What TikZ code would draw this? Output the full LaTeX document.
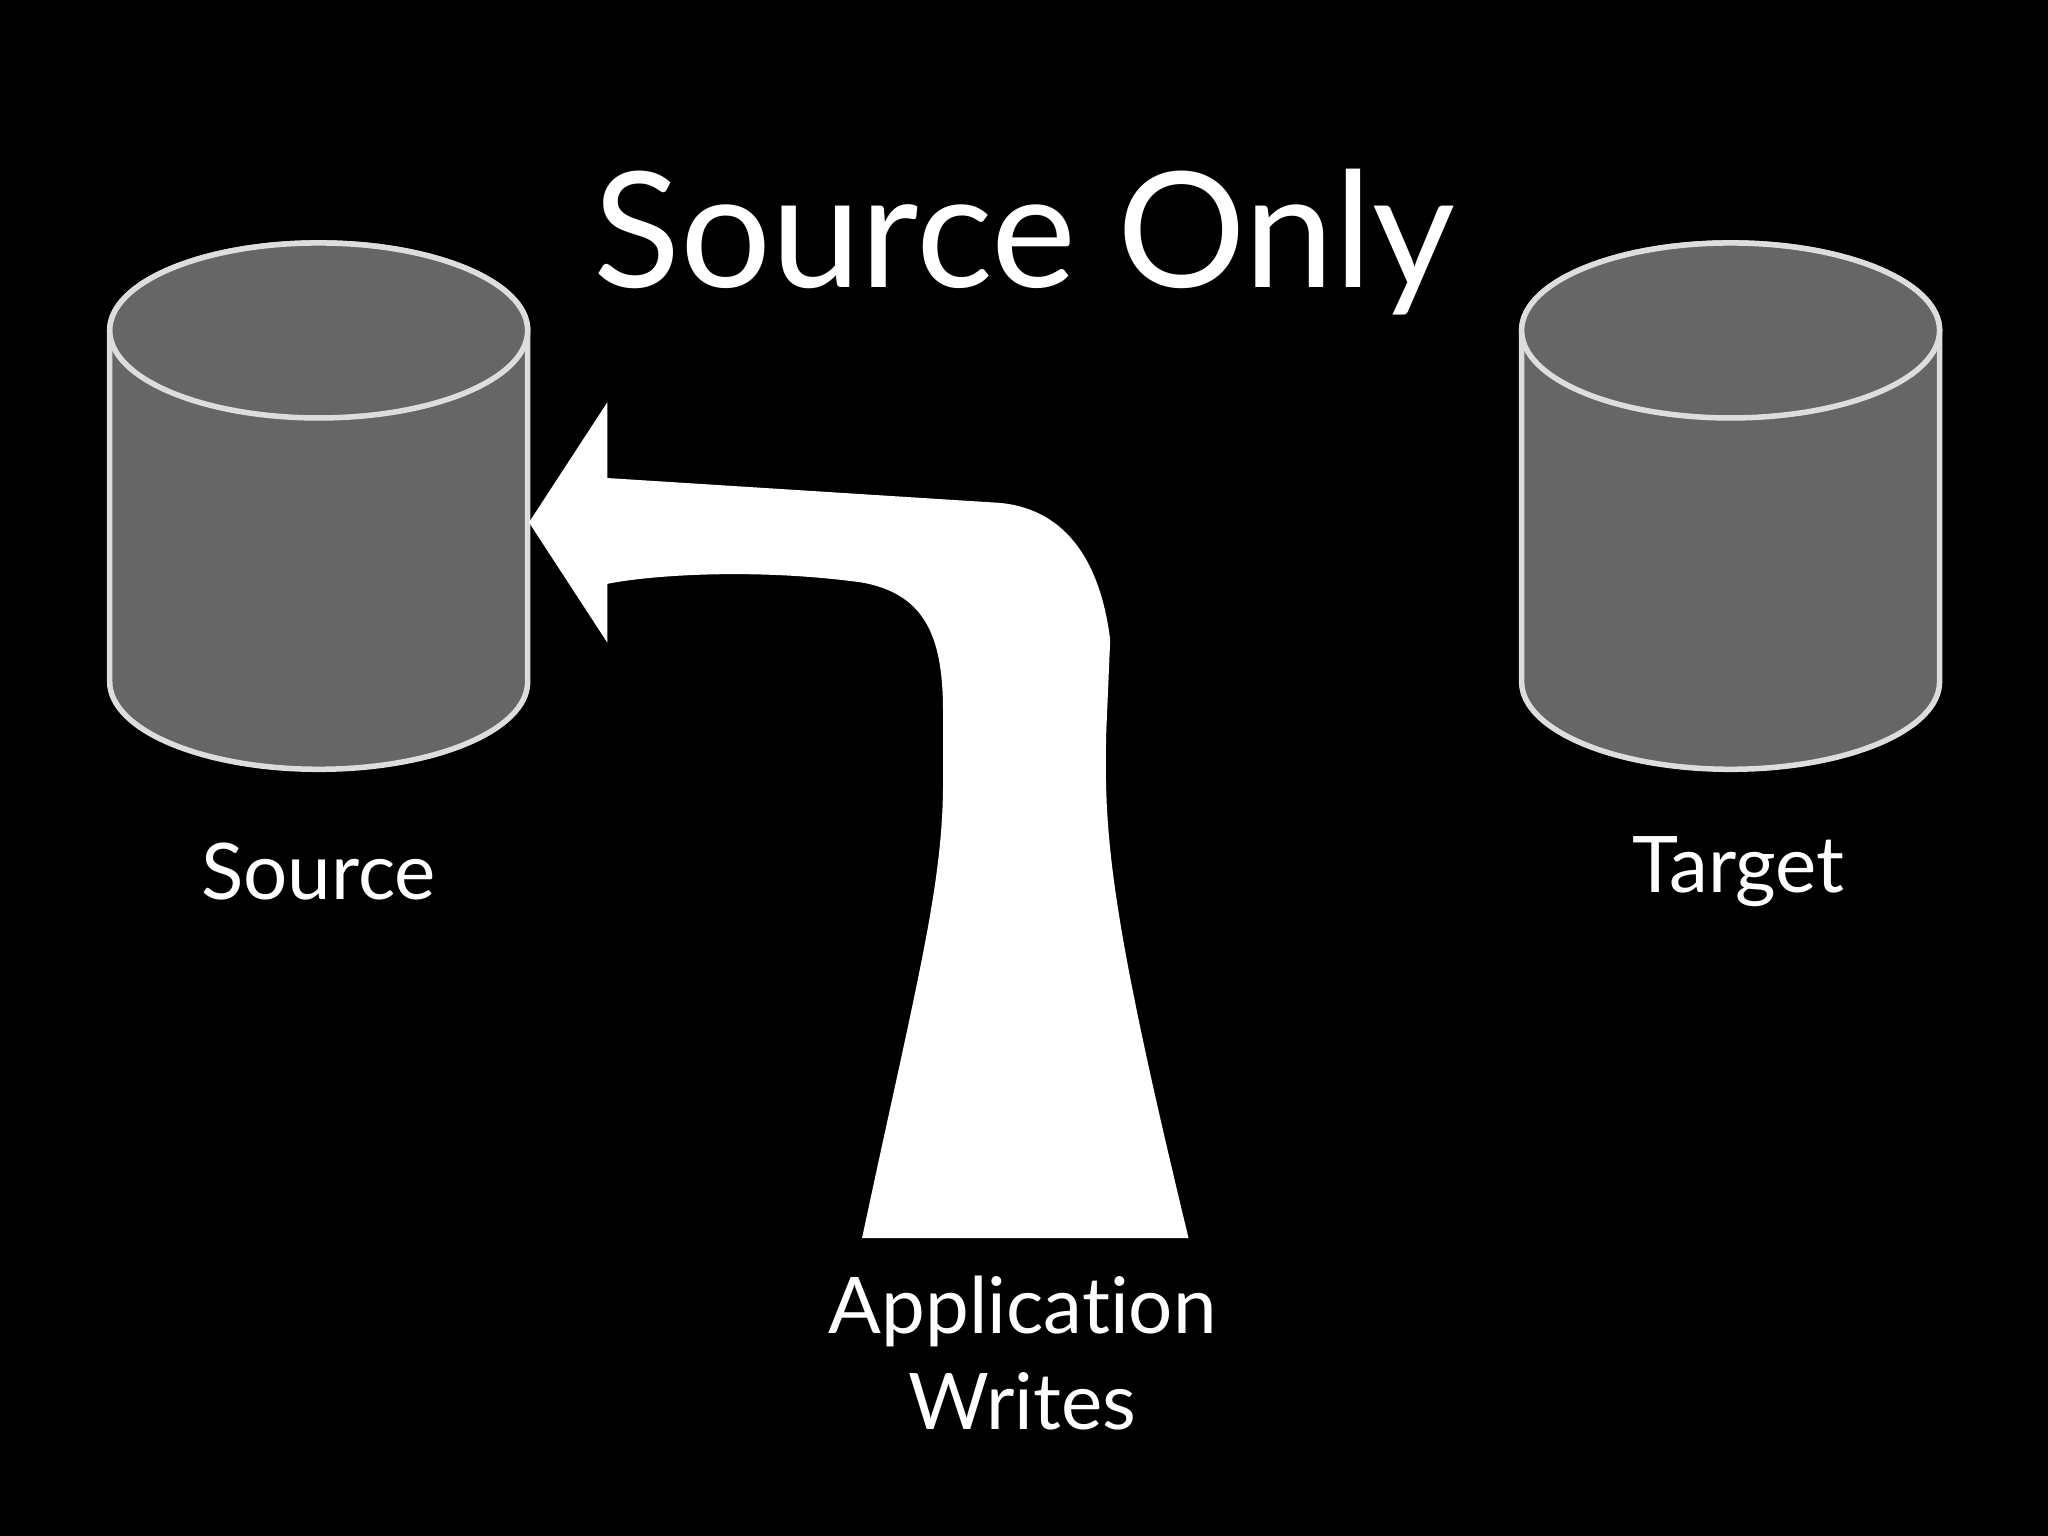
\documentclass[tikz,border=0pt]{standalone}
\usepackage{fontspec}
\setmainfont{Lato}[RawFeature={-liga}]
\begin{document}
\begin{tikzpicture}[x=0.01cm,y=-0.01cm,
  cyl/.style={fill=cylgray,draw=cyledge,line width=1.2pt},
  lbl/.style={text=white,font=\fontsize{17}{21}\selectfont,align=center}]
\definecolor{cylgray}{HTML}{666666}
\definecolor{cyledge}{HTML}{DDDDDD}
\fill[black] (0,0) rectangle (1568,1176);
\useasboundingbox (0,0) rectangle (1568,1176);
\node[text=white,font=\fontsize{35}{40}\selectfont] (title) at (784,185) {Source Only};
\foreach \cx/\nm in {244/src,1325/tgt}{
  \path[cyl] (\cx-160,253) -- (\cx-160,522) arc[start angle=180,end angle=0,x radius=160,y radius=67] -- (\cx+160,253) arc[start angle=0,end angle=-180,x radius=160,y radius=67] -- cycle;
  \draw[cyl] (\cx,253) ellipse[x radius=160,y radius=67];
}
\coordinate (srcright) at (405,400);
\node[lbl] (srcl) at (244,667) {Source};
\node[lbl] (tgtl) at (1331,667) {Target};
\fill[white] (srcright) -- (465,308) -- (465,366) -- (765,385)
  .. controls (800,388) and (840,410) .. (850,490)
  -- (847,560) .. controls (845,640) and (850,700) .. (910,948)
  -- (660,948) .. controls (700,760) and (722,680) .. (722,600)
  -- (722,545) .. controls (722,490) and (710,455) .. (660,446)
  .. controls (580,435) and (500,440) .. (465,447) -- (465,492) -- cycle;
\node[lbl] (app) at (783,1036) {Application\\Writes};
\end{tikzpicture}
\end{document}
